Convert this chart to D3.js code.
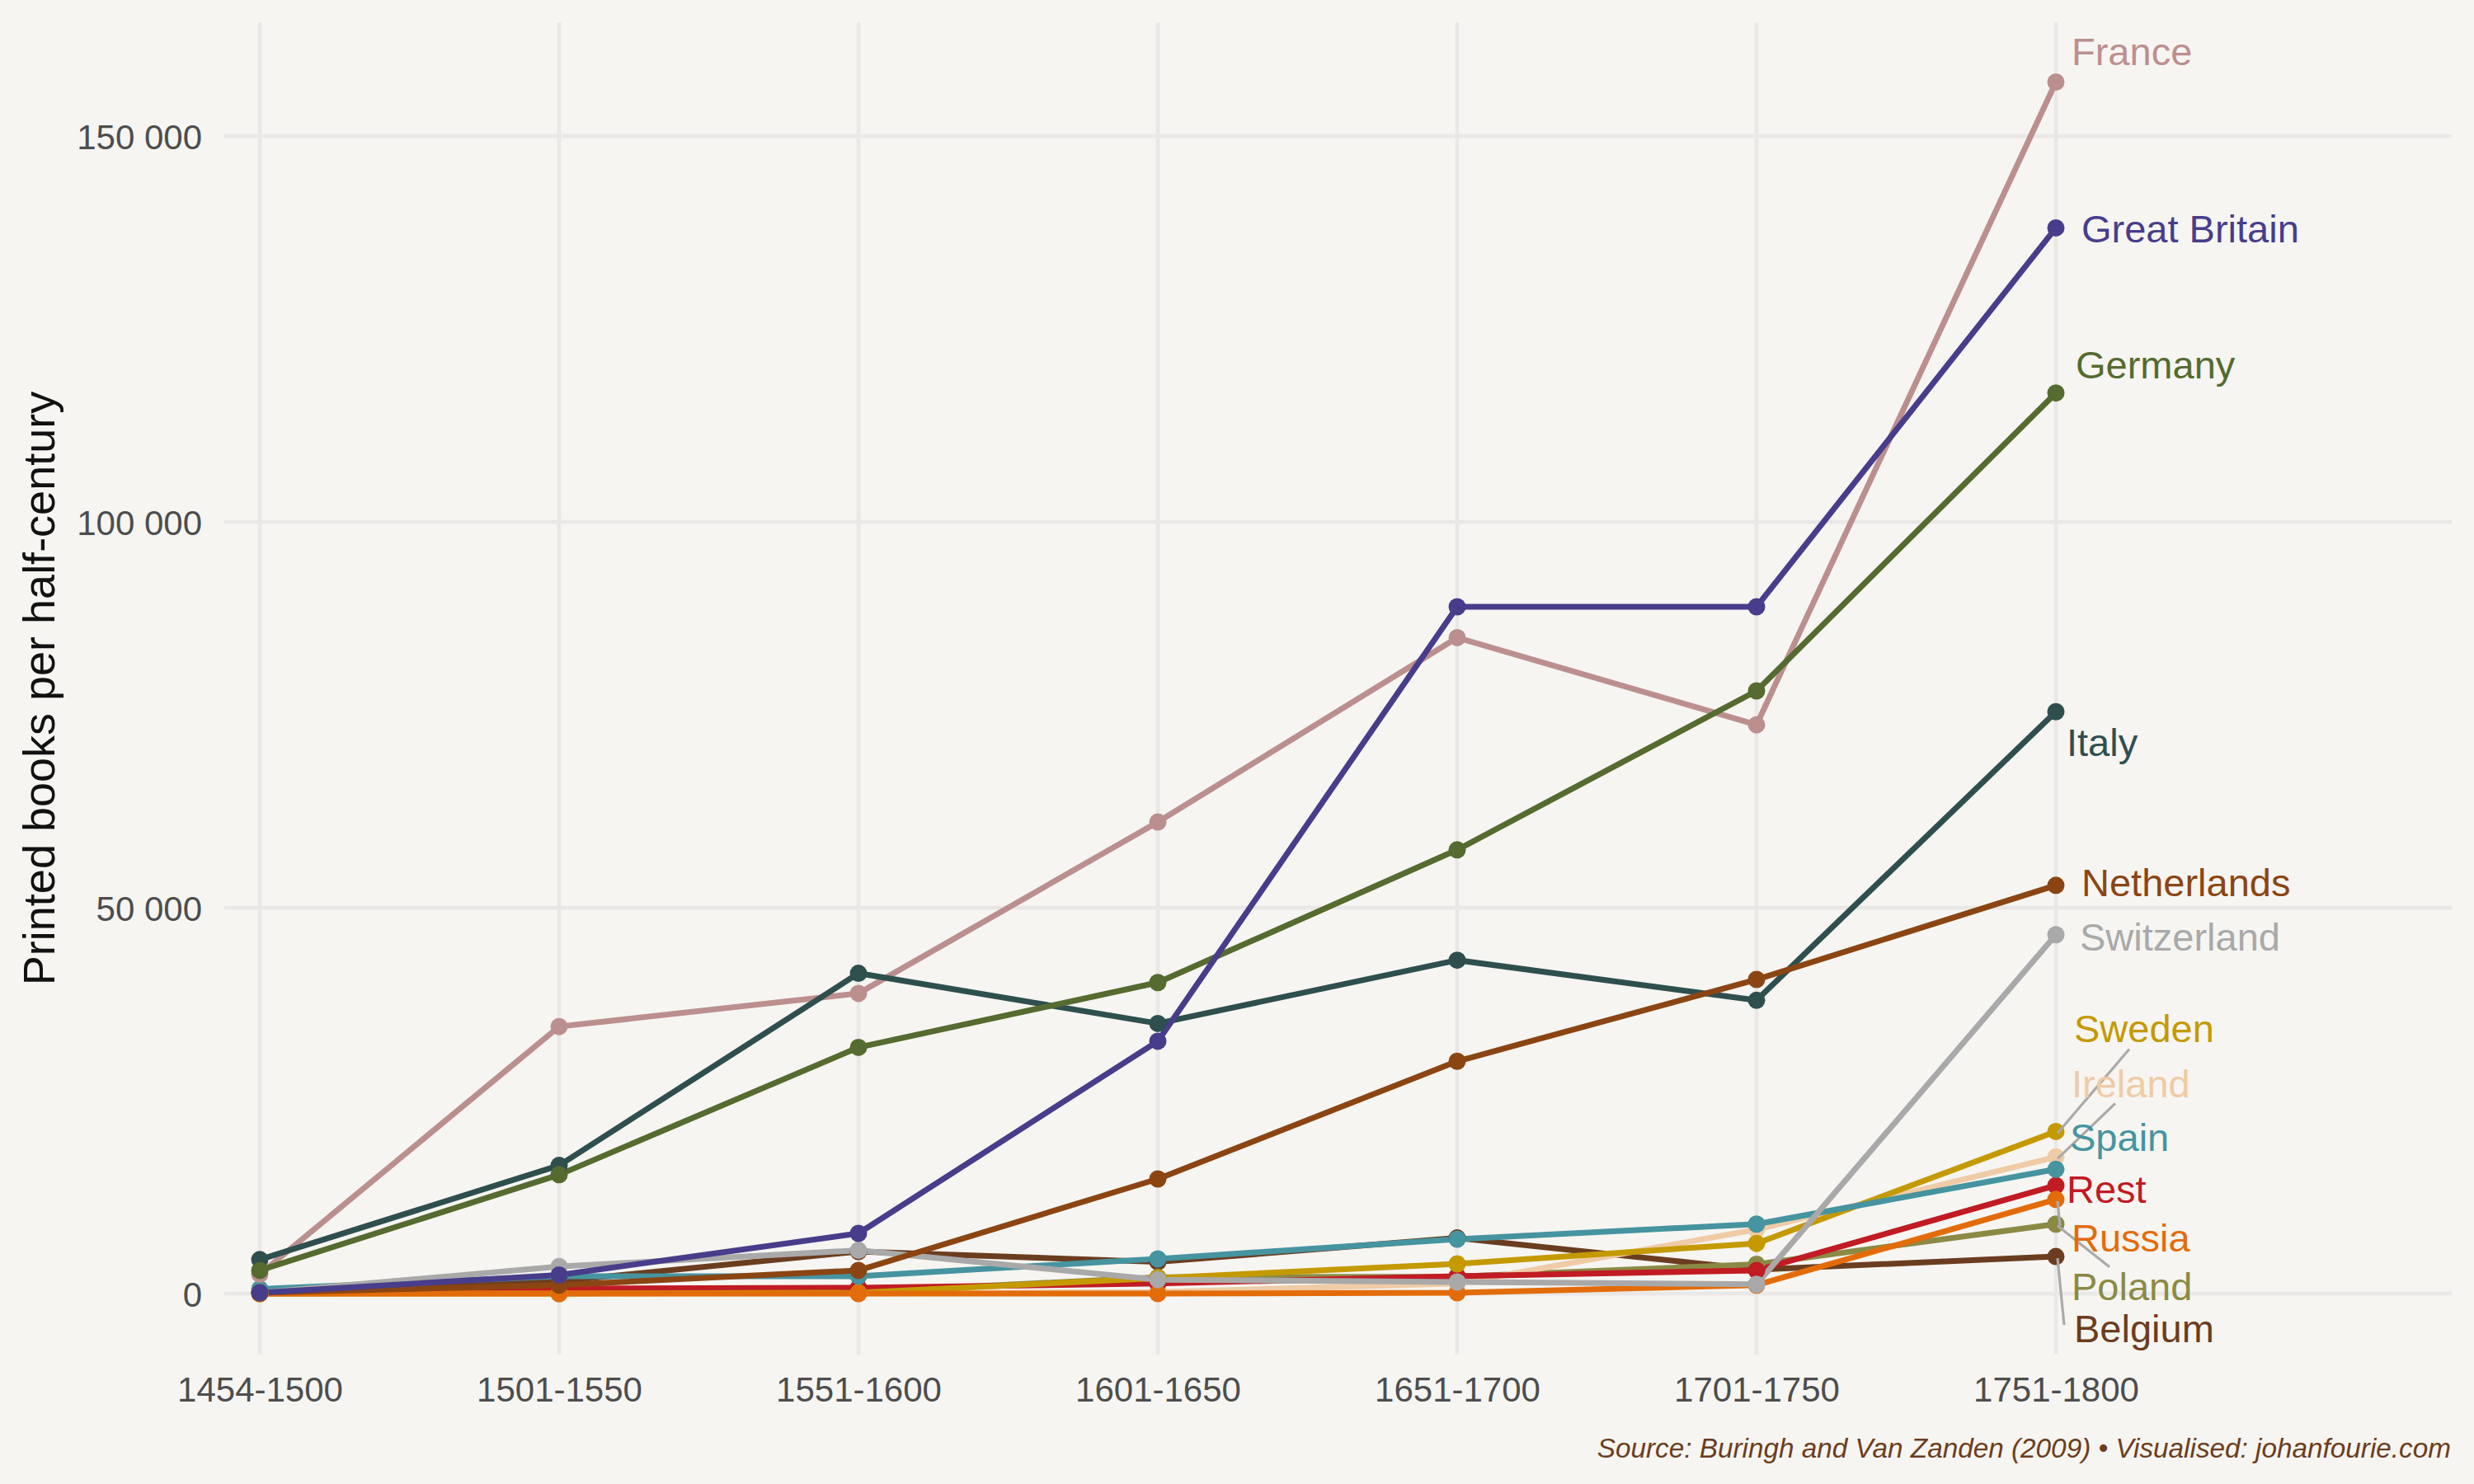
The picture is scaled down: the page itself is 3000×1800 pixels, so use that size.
<!DOCTYPE html>
<html>
<head>
<meta charset="utf-8">
<script src="https://cdn.jsdelivr.net/npm/d3@7"></script>
<style>
  html, body { margin: 0; padding: 0; background: #f6f5f1; }
  svg { display: block; }
  text { font-family: "Liberation Sans", Arial, sans-serif; }
</style>
</head>
<body>
<svg id="chart" width="3000" height="1800"></svg>
<script>
// ---------------- data ----------------
const categories = ["1454-1500", "1501-1550", "1551-1600", "1601-1650", "1651-1700", "1701-1750", "1751-1800"];
const yTicks = [0, 50000, 100000, 150000];

const belgium     = [200, 1600, 5450, 4100, 7200, 3100, 4800];
const poland      = [0, 100, 200, 2100, 2200, 3800, 9000];
const ireland     = [0, 0, 0, 200, 1300, 8300, 17700];
const rest        = [100, 650, 750, 1300, 2250, 3000, 14000];
const sweden      = [0, 0, 100, 2000, 3850, 6500, 21000];
const spain       = [600, 2250, 2250, 4500, 7050, 9000, 16100];
const russia      = [0, 0, 0, 0, 100, 1100, 12200];
const switzerland = [100, 3500, 5600, 1800, 1500, 1200, 46500];
const france      = [2500, 34600, 38900, 61100, 85000, 73700, 157000];
const italy       = [4400, 16600, 41500, 35000, 43200, 38000, 75400];
const germany     = [3000, 15400, 31900, 40300, 57500, 78100, 116700];
const netherlands = [100, 1100, 3000, 14850, 30100, 40700, 52900];
const greatBritain= [100, 2400, 7800, 32700, 89000, 89000, 138100];

// series in drawing order (bottom -> top)
const seriesNames = ["Belgium", "Poland", "Ireland", "Rest", "Sweden", "Spain", "Russia",
                     "Switzerland", "France", "Italy", "Germany", "Netherlands", "Great Britain"];
const seriesValues = [belgium, poland, ireland, rest, sweden, spain, russia,
                      switzerland, france, italy, germany, netherlands, greatBritain];

// ---------------- styles / layout ----------------
const colors = {
  "France": "#bc8f8f", "Great Britain": "#483d8b", "Germany": "#556b2f", "Italy": "#2f4f4f",
  "Netherlands": "#8b4513", "Switzerland": "#a9a9a9", "Sweden": "#c49a00", "Ireland": "#efcba6",
  "Spain": "#4594a0", "Rest": "#c11b24", "Russia": "#e36c0a", "Poland": "#8b8a45", "Belgium": "#6b3d20"
};
// label offsets from end point (px): [dx, dy baseline]
const labelOffset = {
  "France": [19, -20], "Great Britain": [31, 18], "Germany": [24, -18], "Italy": [13, 54],
  "Netherlands": [31, 13], "Switzerland": [29, 19], "Sweden": [22, -108], "Ireland": [19, -72],
  "Spain": [17, -22], "Rest": [13, 21], "Russia": [19, 63], "Poland": [19, 92], "Belgium": [22, 104]
};
// leader segment end offsets from end point (px)
const leaderOffset = {
  "Sweden": [89, -100], "Ireland": [72, -65], "Russia": [5, 32], "Poland": [65, 52], "Belgium": [10, 83]
};

const svg = d3.select("#chart");
const W = 3000, H = 1800;
const panel = { left: 272, right: 2973, top: 27, bottom: 1643 };

svg.append("rect").attr("width", W).attr("height", H).attr("fill", "#f6f5f1");

const x = d3.scalePoint().domain(categories).range([315, 2493]);
const y = d3.scaleLinear().domain([0, 150000]).range([1569, 165]);

const fmt = v => d3.format(",")(v).replace(/,/g, " ");

// grid
const grid = svg.append("g");
grid.selectAll("line.h").data(yTicks).join("line")
  .attr("x1", panel.left).attr("x2", panel.right)
  .attr("y1", d => y(d)).attr("y2", d => y(d))
  .attr("stroke", "#e9e8e6").attr("stroke-width", 4.5);
grid.selectAll("line.v").data(categories).join("line")
  .attr("x1", d => x(d)).attr("x2", d => x(d))
  .attr("y1", panel.top).attr("y2", panel.bottom)
  .attr("stroke", "#e9e8e6").attr("stroke-width", 4.5);

// axes (text only)
const yAxis = d3.axisLeft(y).tickValues(yTicks).tickFormat(fmt).tickSize(0).tickPadding(0);
const gy = svg.append("g").attr("transform", "translate(245,0)").call(yAxis);
gy.select(".domain").remove();
gy.selectAll("text").attr("font-size", 42).attr("fill", "#4d4d4d")
  .attr("font-family", "Liberation Sans, Arial, sans-serif").attr("dy", "0.36em").attr("x", 0);

const xAxis = d3.axisBottom(x).tickSize(0).tickPadding(0);
const gx = svg.append("g").attr("transform", "translate(0,1700)").call(xAxis);
gx.select(".domain").remove();
gx.selectAll("text").attr("font-size", 42).attr("fill", "#4d4d4d")
  .attr("font-family", "Liberation Sans, Arial, sans-serif").attr("dy", 0).attr("y", 0);

// y title
svg.append("text")
  .attr("transform", "translate(66,835) rotate(-90)")
  .attr("text-anchor", "middle")
  .attr("font-size", 54).attr("fill", "#111")
  .text("Printed books per half-century");

// lines
const line = d3.line().x((d, i) => x(categories[i])).y(d => y(d));
const series = seriesNames.map((n, i) => ({ name: n, values: seriesValues[i] }));

svg.append("g").selectAll("path").data(series).join("path")
  .attr("d", d => line(d.values))
  .attr("fill", "none")
  .attr("stroke", d => colors[d.name])
  .attr("stroke-width", 7)
  .attr("stroke-linejoin", "round");

// points
const pg = svg.append("g");
series.forEach(s => {
  pg.selectAll(null).data(s.values).join("circle")
    .attr("cx", (d, i) => x(categories[i]))
    .attr("cy", d => y(d))
    .attr("r", 10.5)
    .attr("fill", colors[s.name]);
});

// leaders
const lastCat = categories[categories.length - 1];
const lg = svg.append("g");
series.filter(s => leaderOffset[s.name]).forEach(s => {
  const px = x(lastCat), py = y(s.values[s.values.length - 1]);
  const o = leaderOffset[s.name];
  lg.append("line")
    .attr("x1", px + 2).attr("y1", py + 2)
    .attr("x2", px + o[0]).attr("y2", py + o[1])
    .attr("stroke", "#aaaaaa").attr("stroke-width", 3.2);
});

// labels
svg.append("g").selectAll("text").data(series).join("text")
  .attr("x", d => x(lastCat) + labelOffset[d.name][0])
  .attr("y", d => y(d.values[d.values.length - 1]) + labelOffset[d.name][1])
  .attr("font-size", 47)
  .attr("fill", d => colors[d.name])
  .text(d => d.name);

// caption
svg.append("text")
  .attr("x", 2972).attr("y", 1768)
  .attr("text-anchor", "end")
  .attr("font-size", 33.3).attr("font-style", "italic")
  .attr("fill", "#6b3d20")
  .text("Source: Buringh and Van Zanden (2009) \u2022 Visualised: johanfourie.com");
</script>
</body>
</html>
